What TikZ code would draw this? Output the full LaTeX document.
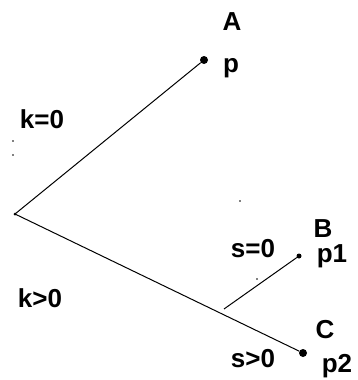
\documentclass[tikz,border=0pt]{standalone}
\usepackage{fontspec}
\setmainfont{Liberation Sans}
\begin{document}
\begin{tikzpicture}[x=1pt,y=-1pt,
  lbl/.style={anchor=base,inner sep=0pt,font=\bfseries\fontsize{26}{26}\selectfont},
  edge/.style={line width=1pt},
  bigdot/.style={circle,fill,inner sep=0pt,minimum size=8pt},
  smalldot/.style={circle,fill,inner sep=0pt,minimum size=5pt},
  tinydot/.style={circle,fill,inner sep=0pt,minimum size=1.8pt}]
\useasboundingbox (0,0) rectangle (358,380);
\coordinate (O) at (15,214);
\node[bigdot] (A) at (204,60) {};
\node[smalldot] (B) at (299,256) {};
\node[bigdot] (C) at (303,353) {};
\coordinate (M) at (224,309);
\node[tinydot,minimum size=3pt] (Od) at (O) {};
\draw[edge] (O) -- (A);
\draw[edge] (O) -- (C);
\draw[edge] (M) -- (B);
\node[lbl] (tA) at (232,30) {A};
\node[lbl] (tp) at (231,72) {p};
\node[lbl] (tk0) at (42,128) {k=0};
\node[lbl] (tk1) at (40,307) {k>0};
\node[lbl] (tB) at (323,237) {B};
\node[lbl] (tp1) at (332,262) {p1};
\node[lbl] (ts0) at (253,257) {s=0};
\node[lbl] (tC) at (325,338) {C};
\node[lbl] (ts1) at (253,367) {s>0};
\node[lbl] (tp2) at (337,372) {p2};
\node[tinydot] (d1) at (13,141) {};
\node[tinydot] (d2) at (13,155) {};
\node[tinydot] (d3) at (240,201) {};
\node[tinydot] (d4) at (257,279) {};
\end{tikzpicture}
\end{document}
